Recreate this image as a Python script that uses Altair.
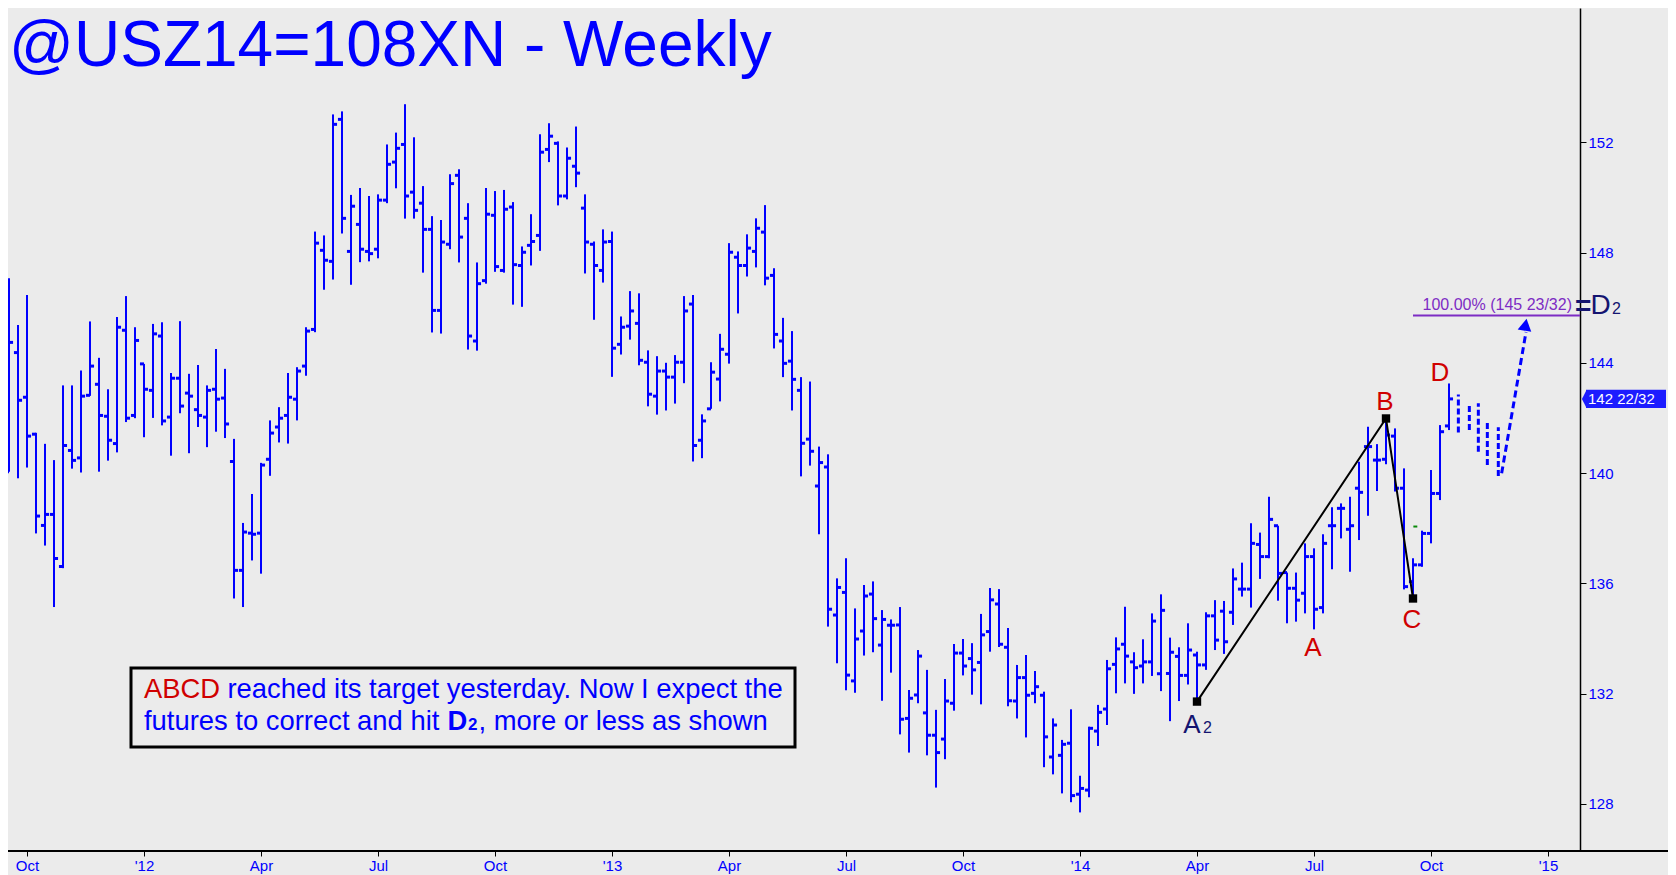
import altair as alt
import pandas as pd

FONT = "Arial, Liberation Sans, sans-serif"
BLUE = "#0000ff"
RED = "#d00000"
NAVY = "#141470"
PURPLE = "#7d2cc4"
BG = "#ebebeb"

# ---- weekly OHLC (bar index 0 = mid-Sep 2011) ----
opens = [140.5, 140.05, 144.37, 142.75, 141.41, 138.1, 138.5, 136.61, 140.82, 140.55,
         142.82, 143.22, 142.06, 141.07, 145.18, 142.09, 143.96, 143.0, 144.97, 142.03,
         143.44, 142.9, 142.3, 142.03, 143.04, 142.72, 140.42, 136.47, 137.82, 137.82,
         140.5, 141.67, 142.09, 142.68, 143.88, 145.21, 148.08, 147.68, 152.83, 148.04,
         149.02, 148.04, 148.12, 149.9, 151.28, 151.92, 150.19, 149.79, 148.84, 145.9,
         148.3, 150.8, 149.24, 144.79, 146.98, 149.35, 147.35, 149.65, 147.53, 148.26,
         148.62, 151.74, 151.96, 150.05, 151.13, 149.61, 148.3, 147.35, 148.4, 144.67,
         145.33, 145.43, 144.02, 142.79, 143.7, 143.48, 144.02, 146.13, 141.19, 142.33,
         143.41, 144.31, 147.83, 147.53, 148.04, 148.74, 147.17, 144.79, 144.06, 143.0,
         141.23, 139.53, 140.22, 134.85, 135.67, 132.46, 134.27, 135.61, 133.76, 134.48,
         134.49, 131.1, 131.95, 131.3, 130.49, 130.35, 131.65, 133.47, 133.27, 133.13,
         134.25, 135.25, 133.68, 131.73, 132.58, 132.01, 131.94, 129.7, 129.76, 130.2,
         128.35, 128.5, 130.64, 131.44, 133.06, 133.79, 133.15, 133.0, 133.15, 132.72,
         132.73, 133.35, 132.66, 133.4, 133.04, 134.82, 134.99, 134.95, 135.79, 135.79,
         137.41, 136.97, 138.09, 136.39, 135.82, 135.64, 136.97, 135.12, 138.09, 138.72,
         137.96, 139.45, 140.96, 140.47, 140.5, 141.34, 139.45, 136.06, 136.67, 137.81,
         139.26, 141.71]
highs = [142.01, 147.07, 145.37, 146.46, 141.46, 141.06, 140.47, 143.18, 143.18, 143.72,
         145.5, 144.18, 143.04, 145.66, 146.42, 145.29, 143.96, 145.41, 145.47, 143.63,
         145.51, 143.6, 143.92, 143.18, 144.5, 143.78, 141.24, 138.19, 139.24, 140.37,
         141.91, 142.39, 143.63, 143.84, 145.29, 148.76, 148.62, 153.01, 153.12, 150.09,
         150.34, 150.05, 150.11, 151.92, 152.35, 153.38, 152.18, 150.41, 149.32, 149.18,
         150.84, 151.02, 149.79, 147.64, 150.34, 150.23, 150.27, 149.83, 148.22, 149.39,
         152.29, 152.69, 152.03, 151.81, 152.57, 150.11, 148.4, 148.84, 148.76, 145.68,
         146.6, 146.52, 144.45, 144.24, 144.0, 144.28, 146.42, 146.46, 142.13, 144.02,
         145.05, 148.34, 148.04, 148.66, 149.24, 149.72, 147.43, 145.63, 145.15, 143.48,
         143.32, 140.96, 140.68, 136.18, 136.91, 135.09, 135.94, 136.07, 135.03, 134.69,
         135.14, 132.13, 133.58, 132.86, 131.41, 132.53, 133.8, 133.98, 133.83, 134.89,
         135.83, 135.79, 134.38, 133.04, 133.4, 132.82, 132.07, 131.1, 130.32, 131.43,
         129.02, 130.8, 131.59, 133.22, 134.04, 135.15, 133.5, 133.97, 134.91, 135.6,
         134.03, 133.68, 134.55, 133.52, 134.95, 135.39, 135.36, 136.54, 136.75, 138.18,
         137.84, 139.14, 138.09, 136.39, 136.39, 137.45, 137.27, 137.78, 138.76, 138.9,
         139.14, 140.41, 141.68, 141.05, 141.98, 141.62, 140.17, 136.91, 137.91, 140.11,
         141.74, 143.25]
lows = [138.71, 140.05, 139.81, 140.2, 137.81, 137.37, 135.14, 136.55, 140.16, 140.02,
        142.8, 140.05, 140.45, 140.75, 141.85, 141.99, 141.3, 142.0, 141.73, 140.63,
        142.17, 140.72, 141.67, 140.94, 141.5, 141.27, 135.45, 135.14, 136.83, 136.35,
        139.9, 141.11, 141.07, 141.91, 143.53, 145.11, 146.65, 147.02, 148.69, 146.83,
        147.65, 147.68, 147.79, 149.79, 150.33, 149.23, 149.23, 147.27, 145.1, 145.06,
        148.12, 147.64, 144.48, 144.44, 146.87, 147.3, 147.27, 146.11, 146.03, 147.53,
        148.06, 151.28, 149.71, 149.93, 150.37, 147.24, 145.56, 146.91, 143.49, 144.3,
        144.84, 143.91, 142.42, 142.12, 142.27, 142.52, 143.26, 140.42, 140.54, 142.33,
        142.6, 143.97, 145.79, 147.13, 147.46, 146.81, 144.52, 143.48, 142.27, 139.88,
        140.27, 137.78, 134.43, 133.1, 132.12, 132.03, 133.38, 133.5, 131.74, 132.76,
        130.52, 129.86, 131.65, 129.76, 128.59, 129.62, 131.38, 132.66, 131.96, 131.61,
        133.52, 133.69, 131.54, 131.1, 130.41, 131.65, 129.33, 129.07, 128.38, 128.06,
        127.69, 128.24, 130.1, 130.86, 132.01, 132.37, 131.99, 132.37, 132.64, 132.09,
        131.0, 131.73, 132.33, 131.71, 132.86, 133.58, 133.44, 134.49, 135.52, 135.12,
        136.16, 136.91, 135.37, 134.55, 134.61, 134.91, 134.33, 134.91, 136.51, 137.63,
        136.42, 137.57, 138.45, 139.35, 140.32, 139.33, 135.78, 135.45, 136.6, 137.45,
        139.02, 141.56]
closes = [139.45, 144.74, 142.64, 141.34, 138.44, 138.5, 136.9, 141.0, 140.46, 142.79,
          143.88, 142.09, 141.19, 145.29, 141.99, 144.81, 143.04, 145.05, 141.89, 143.44,
          142.43, 142.79, 142.09, 143.0, 142.68, 141.78, 136.47, 137.86, 137.78, 140.29,
          141.45, 141.99, 142.75, 143.7, 145.15, 148.34, 147.72, 152.65, 149.24, 149.68,
          148.12, 147.96, 149.9, 151.2, 151.78, 150.05, 149.53, 148.84, 145.9, 148.38,
          150.5, 148.56, 144.97, 146.87, 149.39, 147.49, 149.57, 147.56, 148.01, 148.4,
          151.64, 152.22, 150.05, 151.42, 150.88, 148.38, 147.53, 148.38, 144.53, 145.29,
          145.88, 144.09, 142.86, 143.7, 143.48, 144.02, 145.88, 141.0, 141.89, 143.66,
          144.49, 148.01, 147.53, 148.16, 148.88, 147.07, 145.03, 143.98, 143.4, 141.08,
          140.79, 140.38, 135.06, 135.85, 132.67, 133.98, 135.54, 134.72, 134.69, 134.48,
          131.07, 131.83, 133.36, 130.49, 129.86, 131.73, 133.47, 133.0, 132.86, 134.13,
          135.4, 133.79, 131.74, 132.58, 131.94, 132.25, 130.43, 130.86, 130.16, 128.3,
          128.56, 130.74, 131.32, 132.9, 133.62, 133.36, 132.94, 133.15, 134.63, 135.02,
          133.5, 132.66, 133.58, 133.04, 134.82, 133.94, 133.88, 136.16, 135.79, 137.45,
          136.97, 138.32, 136.36, 135.82, 135.39, 136.97, 135.06, 137.45, 138.09, 138.72,
          138.09, 139.3, 140.96, 140.47, 141.38, 139.45, 135.88, 136.67, 137.81, 139.26,
          141.5, 142.69]
weeks = list(range(len(opens)))

# axis ticks (bar index of first week of each quarter)
tick_weeks = [3, 16, 29, 42, 55, 68, 81, 94, 107, 120, 133, 146, 159, 172]
tick_labels = ["Oct", "'12", "Apr", "Jul", "Oct", "'13", "Apr", "Jul", "Oct", "'14",
               "Apr", "Jul", "Oct", "'15"]
price_ticks = [128, 132, 136, 140, 144, 148, 152]

# projected (dashed) bars
proj_week = [162.04, 163.26, 164.26, 165.26, 166.48]
proj_high = [142.85, 142.49, 142.53, 141.92, 141.66]
proj_low = [141.47, 141.56, 140.77, 140.29, 139.89]

# projected arrow
arrow_week = [166.85, 169.56]
arrow_price = [139.99, 145.12]
arrow_head_week = [169.5]
arrow_head_price = [145.38]

# ABC pattern pivots
pivot_names = ["A2", "B", "C"]
pivot_week = [133, 154, 157]
pivot_price = [131.71, 141.98, 135.45]
label_A_week, label_A_price = 146, 134.33
label_D_week, label_D_price = 161, 143.25
green_week = [157.04]
green_week2 = [157.48]
green_price = [138.06]

target_price = 145.71875
target_text = "100.00% (145 23/32)"
last_price = 142.6875
last_text = "142 22/32"

title_text = "@USZ14=108XN - Weekly"
note_red = "ABCD"
note_line1 = "reached its target yesterday. Now I expect the"
note_line2a = "futures to correct and hit"
note_line2b = "D"
note_line2c = "2"
note_line2d = ", more or less as shown"

# ---- scales / axes ----
W, H = 1572, 843
PAD_R, PAD_B = 88, 24
xs = alt.Scale(domain=[0.889, 175.556], nice=False, zero=False)
ys = alt.Scale(domain=[126.29, 156.87], nice=False, zero=False)
lab_arr = "[" + ",".join('"%s"' % t for t in tick_labels) + "]"
val_arr = "[" + ",".join(str(v) for v in tick_weeks) + "]"
x_axis = alt.Axis(values=tick_weeks, labelExpr=f"{lab_arr}[indexof({val_arr}, datum.value)]",
                  title=None, grid=False, domain=False, ticks=True, tickColor="black",
                  tickSize=5, tickWidth=1, labelColor=BLUE, labelFont=FONT, labelFontSize=15,
                  labelPadding=2, labelFlush=False, labelOverlap=False, orient="bottom")
y_axis = alt.Axis(values=price_ticks, orient="right", title=None, grid=False, domain=True,
                  domainColor="black", domainWidth=1.5, tickColor="black", tickSize=6,
                  tickWidth=1, labelColor=BLUE, labelFont=FONT, labelFontSize=15,
                  labelPadding=2, labelBaseline="middle", labelFlush=False, labelOverlap=False)


def X(f):
    return alt.X(f, type="quantitative", scale=xs, axis=x_axis)


def Y(f):
    return alt.Y(f, type="quantitative", scale=ys, axis=y_axis)


ohlc = pd.DataFrame({"k": weeks, "o": opens, "h": highs, "l": lows, "c": closes})
base = alt.Chart(ohlc)
hl = base.mark_rule(color=BLUE, strokeWidth=2, strokeCap="butt").encode(
    x=X("k"), y=Y("l"), y2="h")
op = base.transform_calculate(k2="datum.k - 0.45").mark_rule(
    color=BLUE, strokeWidth=3, strokeCap="butt").encode(x=X("k"), x2="k2:Q", y=Y("o"))
cl = base.transform_calculate(k2="datum.k + 0.45").mark_rule(
    color=BLUE, strokeWidth=3, strokeCap="butt").encode(x=X("k"), x2="k2:Q", y=Y("c"))

proj = alt.Chart(pd.DataFrame({"k": proj_week, "h": proj_high, "l": proj_low})).mark_rule(
    color=BLUE, strokeWidth=3, strokeDash=[6, 3], strokeCap="butt").encode(
    x=X("k"), y=Y("l"), y2="h")
arrow = alt.Chart(pd.DataFrame({"k": arrow_week, "p": arrow_price})).mark_line(
    color=BLUE, strokeWidth=3, strokeDash=[7, 4]).encode(x=X("k"), y=Y("p"))
head = alt.Chart(pd.DataFrame({"k": arrow_head_week, "p": arrow_head_price})).mark_point(
    shape="triangle-up", filled=True, color=BLUE, opacity=1, size=190, angle=10).encode(
    x=X("k"), y=Y("p"))

piv = pd.DataFrame({"name": pivot_names, "k": pivot_week, "p": pivot_price,
                    "ord": list(range(len(pivot_names)))})
abc_line = alt.Chart(piv).mark_line(color="black", strokeWidth=2).encode(
    x=X("k"), y=Y("p"), order="ord:Q")
abc_sq = alt.Chart(piv).mark_square(color="black", filled=True, opacity=1, size=70).encode(
    x=X("k"), y=Y("p"))

green = alt.Chart(pd.DataFrame({"k": green_week, "k2": green_week2, "p": green_price})).mark_rule(
    color="#0a8a0a", strokeWidth=2).encode(x=X("k"), x2="k2:Q", y=Y("p"))

# target line and labels
tgt = pd.DataFrame({"k": [pivot_week[2]], "p": [target_price], "t": [target_text]})
tgt_line = alt.Chart(tgt).mark_rule(color=PURPLE, strokeWidth=2).encode(
    x=X("k"), x2=alt.value(W), y=Y("p"))
tgt_text = alt.Chart(tgt).mark_text(align="right", baseline="alphabetic", dy=-5,
                                    font=FONT, fontSize=16, color=PURPLE).encode(
    x=alt.value(W - 8), y=Y("p"), text="t:N")


def anchored(text, k, p, dx, dy, size, color, align="center", weight="normal"):
    return alt.Chart(pd.DataFrame({"k": [k], "p": [p], "t": [text]})).mark_text(
        align=align, baseline="alphabetic", dx=dx, dy=dy, font=FONT, fontSize=size,
        color=color, fontWeight=weight).encode(x=X("k"), y=Y("p"), text="t:N")


def fixed(text, x, y, size, color, align="left", weight="normal", baseline="alphabetic"):
    return alt.Chart(pd.DataFrame({"t": [text]})).mark_text(
        align=align, baseline=baseline, font=FONT, fontSize=size, color=color,
        fontWeight=weight).encode(x=alt.value(x), y=alt.value(y), text="t:N")


eq_lab = alt.Chart(pd.DataFrame({"p": [target_price], "t": ["="]})).mark_text(
    align="left", baseline="alphabetic", dy=0, font=FONT, fontSize=28, fontWeight="bold",
    color=NAVY).encode(x=alt.value(W - 5), y=Y("p"), text="t:N")
d2_lab = alt.Chart(pd.DataFrame({"p": [target_price], "t": ["D"]})).mark_text(
    align="left", baseline="alphabetic", dy=-1, font=FONT, fontSize=28,
    color=NAVY).encode(x=alt.value(W + 10.5), y=Y("p"), text="t:N")
d2_sub = alt.Chart(pd.DataFrame({"p": [target_price], "t": ["2"]})).mark_text(
    align="left", baseline="alphabetic", dy=-1, font=FONT, fontSize=16,
    color=NAVY).encode(x=alt.value(W + 32), y=Y("p"), text="t:N")

lab_B = anchored("B", pivot_week[1], pivot_price[1], -1, -8, 26, RED)
lab_C = anchored("C", pivot_week[2], pivot_price[2], -1, 30, 26, RED)
lab_A = anchored("A", label_A_week, label_A_price, -1, 27, 26, RED)
lab_D = anchored("D", label_D_week, label_D_price, -9, -2, 26, RED)
lab_A2 = anchored("A", pivot_week[0], pivot_price[0], -5, 31, 26, NAVY)
lab_A2s = anchored("2", pivot_week[0], pivot_price[0], 6, 31, 16, NAVY, align="left")

# last price tag
lp = pd.DataFrame({"p": [last_price], "p1": [last_price + 0.33], "p2": [last_price - 0.33],
                   "t": [last_text]})
tag_rect = alt.Chart(lp).mark_rect(color="#1c1cff").encode(
    x=alt.value(W + 6), x2=alt.value(W + 86), y=Y("p1"), y2="p2")
tag_tri = alt.Chart(lp).mark_point(shape="M-0.5,0L0,-1L0,1Z", filled=True, color="#1c1cff",
                                   opacity=1, size=330).encode(x=alt.value(W + 6.5), y=Y("p"))
tag_txt = alt.Chart(lp).mark_text(align="left", baseline="middle", font=FONT, fontSize=15,
                                  color="white").encode(x=alt.value(W + 8), y=Y("p"), text="t:N")

# x axis line across full width
xline = alt.Chart(pd.DataFrame({"t": [0]})).mark_rule(color="black", strokeWidth=2).encode(
    x=alt.value(0), x2=alt.value(W + PAD_R), y=alt.value(H))

# title (kept fully inside the drawing)
title = fixed(title_text, 1, 58, 64, BLUE)

# note box
box = alt.Chart(pd.DataFrame({"t": [0]})).mark_rect(fill=BG, stroke="black", strokeWidth=3).encode(
    x=alt.value(123), x2=alt.value(787), y=alt.value(660), y2=alt.value(739))
NS = 27.4
n1 = fixed(note_red, 136, 690, NS, RED)
n2 = fixed(note_line1, 219.5, 690, NS, BLUE)
n3 = fixed(note_line2a, 136, 722, NS, BLUE)
n4 = fixed(note_line2b, 439.5, 722, NS, BLUE, weight="bold")
n5 = fixed(note_line2c, 460, 722, 17, BLUE, weight="bold")
n6 = fixed(note_line2d, 470.5, 722, NS, BLUE)

chart = alt.layer(
    hl, op, cl, proj, arrow, head, abc_line, abc_sq, green,
    tgt_line, tgt_text, eq_lab, d2_lab, d2_sub,
    lab_B, lab_C, lab_A, lab_D, lab_A2, lab_A2s,
    tag_rect, tag_tri, tag_txt, xline, title,
    box, n1, n2, n3, n4, n5, n6,
).properties(
    width=W, height=H, autosize="none",
    padding={"left": 0, "top": 0, "right": PAD_R, "bottom": PAD_B},
    background=BG,
).configure_view(stroke=None)

chart.save("out.html", embed_options={"renderer": "svg", "actions": False})
